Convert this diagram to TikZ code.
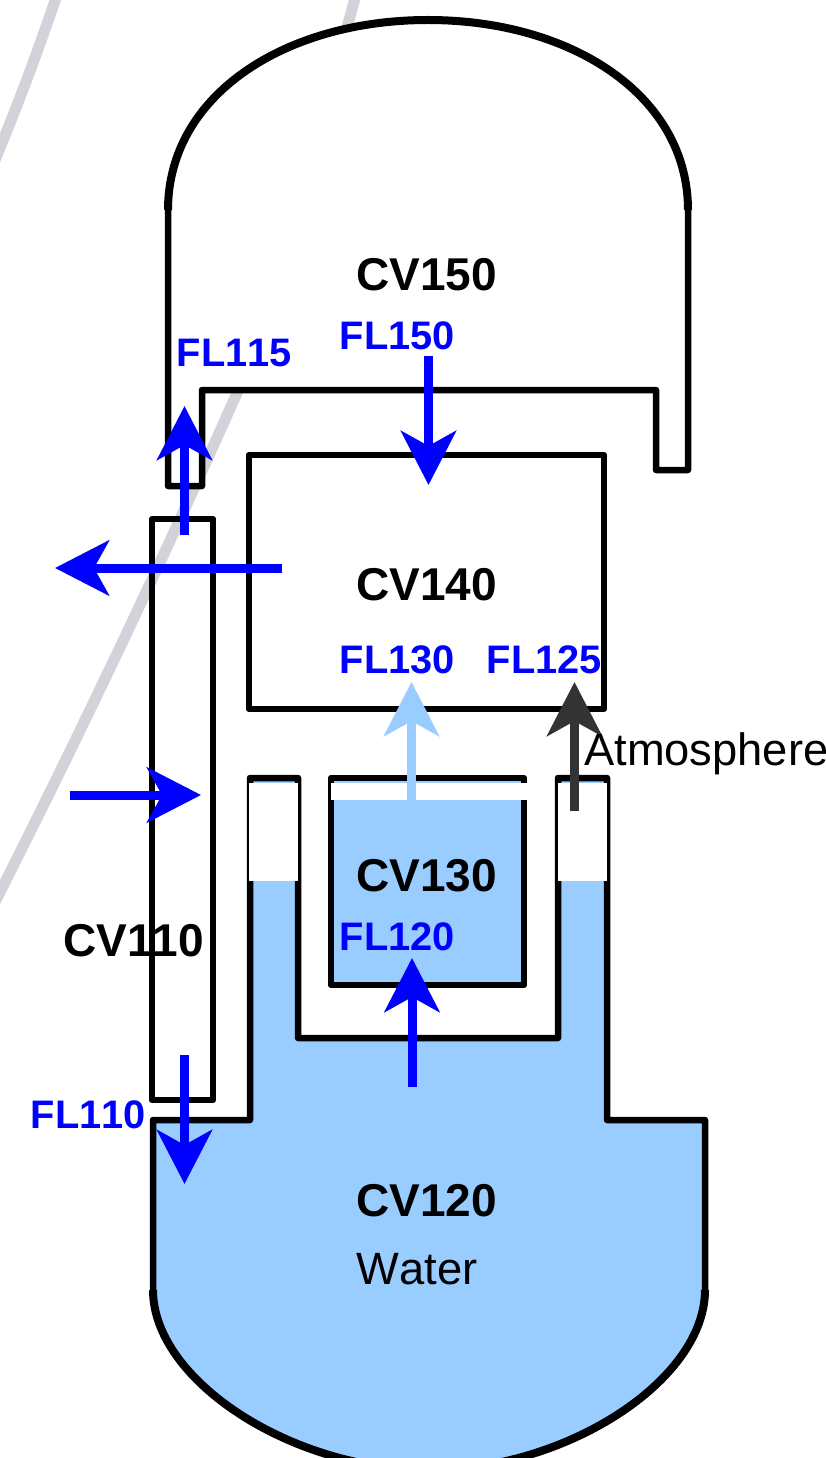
\documentclass[tikz,border=0pt]{standalone}
\usepackage{fontspec}
\setmainfont[Kerning=Off]{Liberation Sans}
\usetikzlibrary{arrows.meta}
\definecolor{water}{HTML}{99CCFF}
\definecolor{flow}{HTML}{0000FF}
\definecolor{darkflow}{HTML}{333333}
\definecolor{ghost}{HTML}{D4D2D9}
\tikzset{
  wall/.style={draw=black,line width=6.5pt,line join=round},
  bigwall/.style={draw=black,line width=8pt},
  ghostline/.style={draw=ghost,line width=11pt},
  flowarrow/.style={line width=9pt,line cap=butt,draw=#1,-{Stealth[length=54pt,width=55pt,inset=15pt,color=#1]}},
  cvlabel/.style={anchor=base west,inner sep=0pt,font=\bfseries\fontsize{46}{54}\selectfont,text=black},
  fllabel/.style={anchor=base west,inner sep=0pt,font=\bfseries\fontsize{39.8}{47}\selectfont,text=flow},
  plainlabel/.style={anchor=base west,inner sep=0pt,font=\fontsize{45.3}{54}\selectfont,text=black},
  gap/.style={fill=white,draw=none}
}
\begin{document}
\begin{tikzpicture}[x=1pt,y=-1pt]
\useasboundingbox (0,0) rectangle (826,1458);
\clip (0,0) rectangle (826,1458);
\fill[white] (0,0) rectangle (826,1458);
% faint background curves
\draw[ghostline] (57,-5) .. controls (40,45) and (20,100) .. (-5,160);
\draw[ghostline] (356,-5) -- (342,45);
\draw[ghostline] (248,368) .. controls (190,500) and (100,695) .. (-8,908);
% CV150
\path[wall,fill=white] (168,210) .. controls (168,95) and (285,20) .. (428,20)
  .. controls (571,20) and (688,95) .. (688,210)
  -- (688,470) -- (656,470) -- (656,390) -- (202,390) -- (202,486) -- (168,486) -- cycle;
\path[bigwall] (168,210) .. controls (168,95) and (285,20) .. (428,20)
  .. controls (571,20) and (688,95) .. (688,210);
% CV140
\path[wall,fill=white] (249,455) rectangle (604,709);
% CV110
\path[wall] (152,519) rectangle (213,1100);
% CV120
\path[wall,fill=water] (250,778) -- (298,778) -- (298,1038) -- (558,1038) -- (558,778) -- (607,778)
  -- (607,1120) -- (705,1120) -- (705,1290)
  .. controls (705,1380) and (567,1470) .. (429,1470)
  .. controls (291,1470) and (153,1380) .. (153,1290)
  -- (153,1120) -- (250,1120) -- cycle;
\path[bigwall] (705,1290) .. controls (705,1380) and (567,1470) .. (429,1470)
  .. controls (291,1470) and (153,1380) .. (153,1290);
% CV130
\path[wall,fill=water] (331,778) rectangle (524,985);
% free space above the water levels
\path[gap] (249,783) rectangle (298,881);
\path[gap] (558,783) rectangle (607,881);
\path[gap] (331,783) rectangle (527,800);
% flow path end points
\coordinate (fl115a) at (184.5,535); \coordinate (fl115b) at (184.5,406);
\coordinate (outa) at (282,568);     \coordinate (outb) at (55,568);
\coordinate (ina) at (70,795);       \coordinate (inb) at (201,795);
\coordinate (fl150a) at (428.5,356); \coordinate (fl150b) at (428.5,485);
\coordinate (fl130a) at (411.5,800); \coordinate (fl130b) at (411.5,682);
\coordinate (fl125a) at (574.5,811); \coordinate (fl125b) at (574.5,682);
\coordinate (fl120a) at (412,1087);  \coordinate (fl120b) at (412,958);
\coordinate (fl110a) at (184.5,1055);\coordinate (fl110b) at (184.5,1184);
% flow paths
\draw[flowarrow=water] (fl130a) -- (fl130b);
\draw[flowarrow=darkflow] (fl125a) -- (fl125b);
\draw[flowarrow=flow] (fl115a) -- (fl115b);
\draw[flowarrow=flow] (outa) -- (outb);
\draw[flowarrow=flow] (ina) -- (inb);
\draw[flowarrow=flow] (fl150a) -- (fl150b);
\draw[flowarrow=flow] (fl120a) -- (fl120b);
\draw[flowarrow=flow] (fl110a) -- (fl110b);
% labels
\node[cvlabel] (cv150) at (356,290) {CV150};
\node[cvlabel] (cv140) at (356,600) {CV140};
\node[cvlabel] (cv130) at (356,891) {CV130};
\node[cvlabel] (cv110) at (63,956) {CV110};
\node[cvlabel] (cv120) at (356,1216) {CV120};
\node[plainlabel] (water) at (356.5,1284) {Water};
\node[plainlabel] (atm) at (584,765) {Atmosphere};
\node[fllabel] (l115) at (176.5,366) {FL115};
\node[fllabel] (l150) at (339.5,349) {FL150};
\node[fllabel] (l130) at (339.5,673) {FL130};
\node[fllabel] (l125) at (486.5,673) {FL125};
\node[fllabel] (l120) at (339.5,950) {FL120};
\node[fllabel] (l110) at (30.5,1128) {FL110};
\end{tikzpicture}
\end{document}
